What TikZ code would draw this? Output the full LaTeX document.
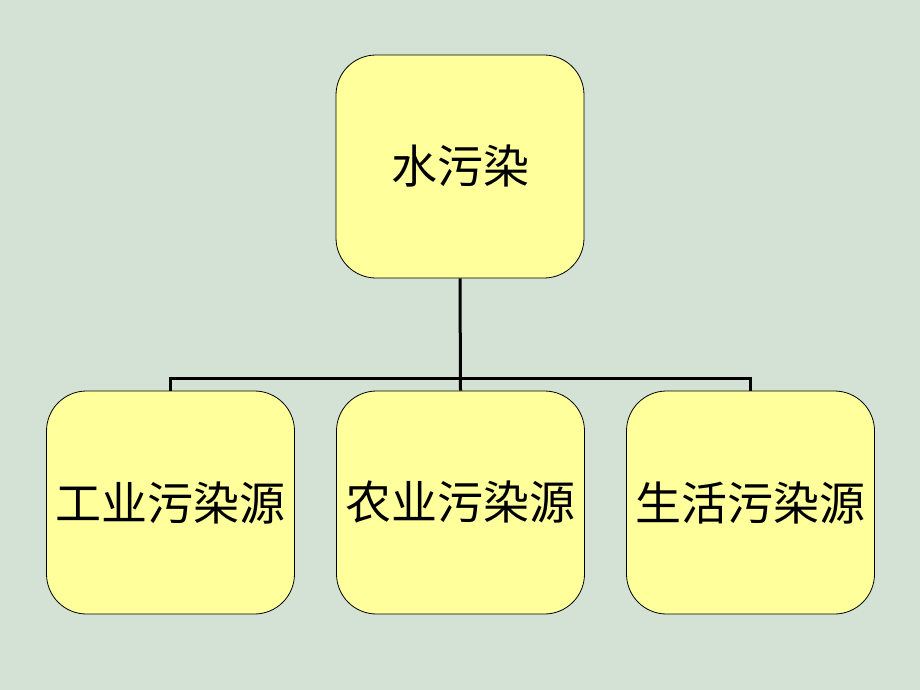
\documentclass[tikz,border=0pt]{standalone}
\usepackage{fontspec}
\newfontfamily\cjk{Noto Sans CJK SC}
\definecolor{bg}{RGB}{211,226,213}
\definecolor{boxfill}{RGB}{255,255,156}
\begin{document}
\begin{tikzpicture}[x=1pt,y=-1pt,
  box/.style={draw=black, line width=0.8pt, fill=boxfill, rounded corners=40pt,
    minimum width=248pt, minimum height=223pt, inner sep=0pt,
    font=\cjk\fontsize{46}{52}\selectfont},
  conn/.style={draw=black, line width=3pt}]
\fill[bg] (0,0) rectangle (920,690);
\useasboundingbox (0,0) rectangle (920,690);
\node[box] (top) at (460,166.5) {水污染};
\node[box] (a) at (170.5,502.5) {工业污染源};
\node[box] (b) at (460.5,502.5) {农业污染源};
\node[box] (c) at (750.5,502.5) {生活污染源};
\coordinate (bus) at (460,378);
\draw[conn] (top.south) -- (b.north);
\draw[conn] (a.north) |- (bus);
\draw[conn] (c.north) |- (bus);
\end{tikzpicture}
\end{document}
